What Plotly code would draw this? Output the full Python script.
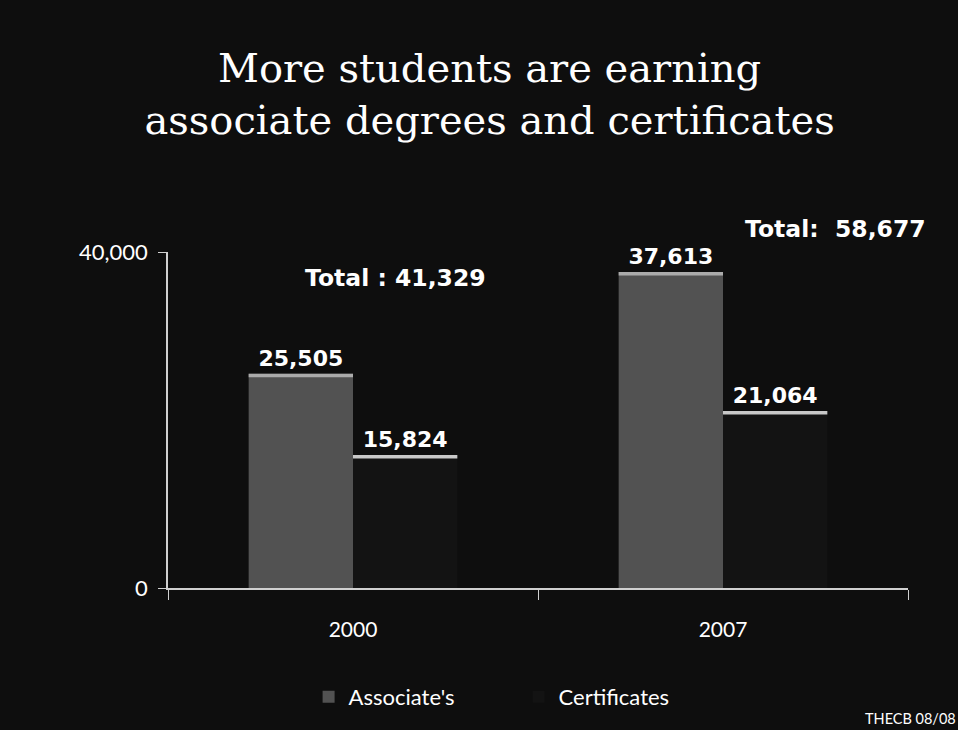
import plotly.graph_objects as go

years = ["2000", "2007"]
associates = [25505, 37613]
certificates = [15824, 21064]
total_labels = ["Total : 41,329", "Total:  58,677"]

BG = "#0e0e0e"
ASSOC_COLOR = "#525252"
CERT_COLOR = "#131313"
W = 0.282
EDGE = 420  # thickness of the bright top edge (data units)

label_font = dict(family="DejaVu Sans", size=22, color="white", weight="bold")

fig = go.Figure()
fig.add_trace(go.Bar(
    x=years, y=associates, name="Associate's", width=W, offset=-W,
    marker=dict(color=ASSOC_COLOR, line=dict(width=0)),
    text=[f"{v:,}" for v in associates], textposition="outside",
    textfont=label_font, cliponaxis=False,
))
fig.add_trace(go.Bar(
    x=years, y=certificates, name="Certificates", width=W, offset=0,
    marker=dict(color=CERT_COLOR, line=dict(width=0)),
    text=[f"{v:,}" for v in certificates], textposition="outside",
    textfont=label_font, cliponaxis=False,
))
fig.add_trace(go.Bar(
    x=years, y=[EDGE] * len(years), base=[v - EDGE for v in associates],
    width=W, offset=-W, marker=dict(color="#ababab", line=dict(width=0)),
    showlegend=False, hoverinfo="skip",
))
fig.add_trace(go.Bar(
    x=years, y=[EDGE] * len(years), base=[v - EDGE for v in certificates],
    width=W, offset=0, marker=dict(color="#c8c8c8", line=dict(width=0)),
    showlegend=False, hoverinfo="skip",
))

fig.update_layout(
    width=958, height=730,
    paper_bgcolor=BG, plot_bgcolor=BG,
    barmode="overlay",
    margin=dict(l=168, r=50, t=252, b=138),
    title=dict(
        text="More students are earning<br>associate degrees and certificates",
        x=0.511, xanchor="center", y=0.887, yanchor="top",
        font=dict(family="DejaVu Serif", size=40, color="white"),
    ),
    showlegend=True,
    legend=dict(
        orientation="h", x=0.19, xanchor="left", y=-0.262, yanchor="top",
        font=dict(family="Lato", size=22, color="white"),
        bgcolor="rgba(0,0,0,0)", itemwidth=30, entrywidth=165,
        traceorder="normal",
    ),
    xaxis=dict(
        type="category", showline=True, linecolor="#d0d0d0", linewidth=1.5,
        ticks="outside", tickson="boundaries", ticklen=10, tickcolor="#d0d0d0",
        tickfont=dict(family="Lato", size=21, color="white"), ticklabelstandoff=22,
        showgrid=False, zeroline=False, range=[-0.5, 1.5],
    ),
    yaxis=dict(
        range=[0, 40000], tickvals=[0, 40000], ticktext=["0", "40,000"],
        showline=True, linecolor="#d0d0d0", linewidth=1.5,
        ticks="outside", ticklen=8, tickcolor="#d0d0d0",
        tickfont=dict(family="Lato", size=22, color="white"), ticklabelstandoff=6,
        showgrid=False, zeroline=False,
    ),
    annotations=[
        dict(x=0.1135, y=0.9235, xref="x", yref="paper", yanchor="middle",
             text=f"<b>{total_labels[0]}</b>", showarrow=False,
             font=dict(family="DejaVu Sans", size=23.5, color="white")),
        dict(x=1.3027, y=1.0676, xref="x", yref="paper", yanchor="middle",
             text=f"<b>{total_labels[1]}</b>", showarrow=False,
             font=dict(family="DejaVu Sans", size=23.5, color="white")),
        dict(x=1.0675, y=-0.42, xref="paper", yref="paper", xanchor="right", yanchor="bottom",
             text="THECB 08/08", showarrow=False,
             font=dict(family="Lato", size=14.5, color="white")),
    ],
)

fig.write_html(
    "out.html",
    config={"displayModeBar": False},
    post_script="document.body.style.margin='0';document.body.style.background='#0e0e0e';",
)
